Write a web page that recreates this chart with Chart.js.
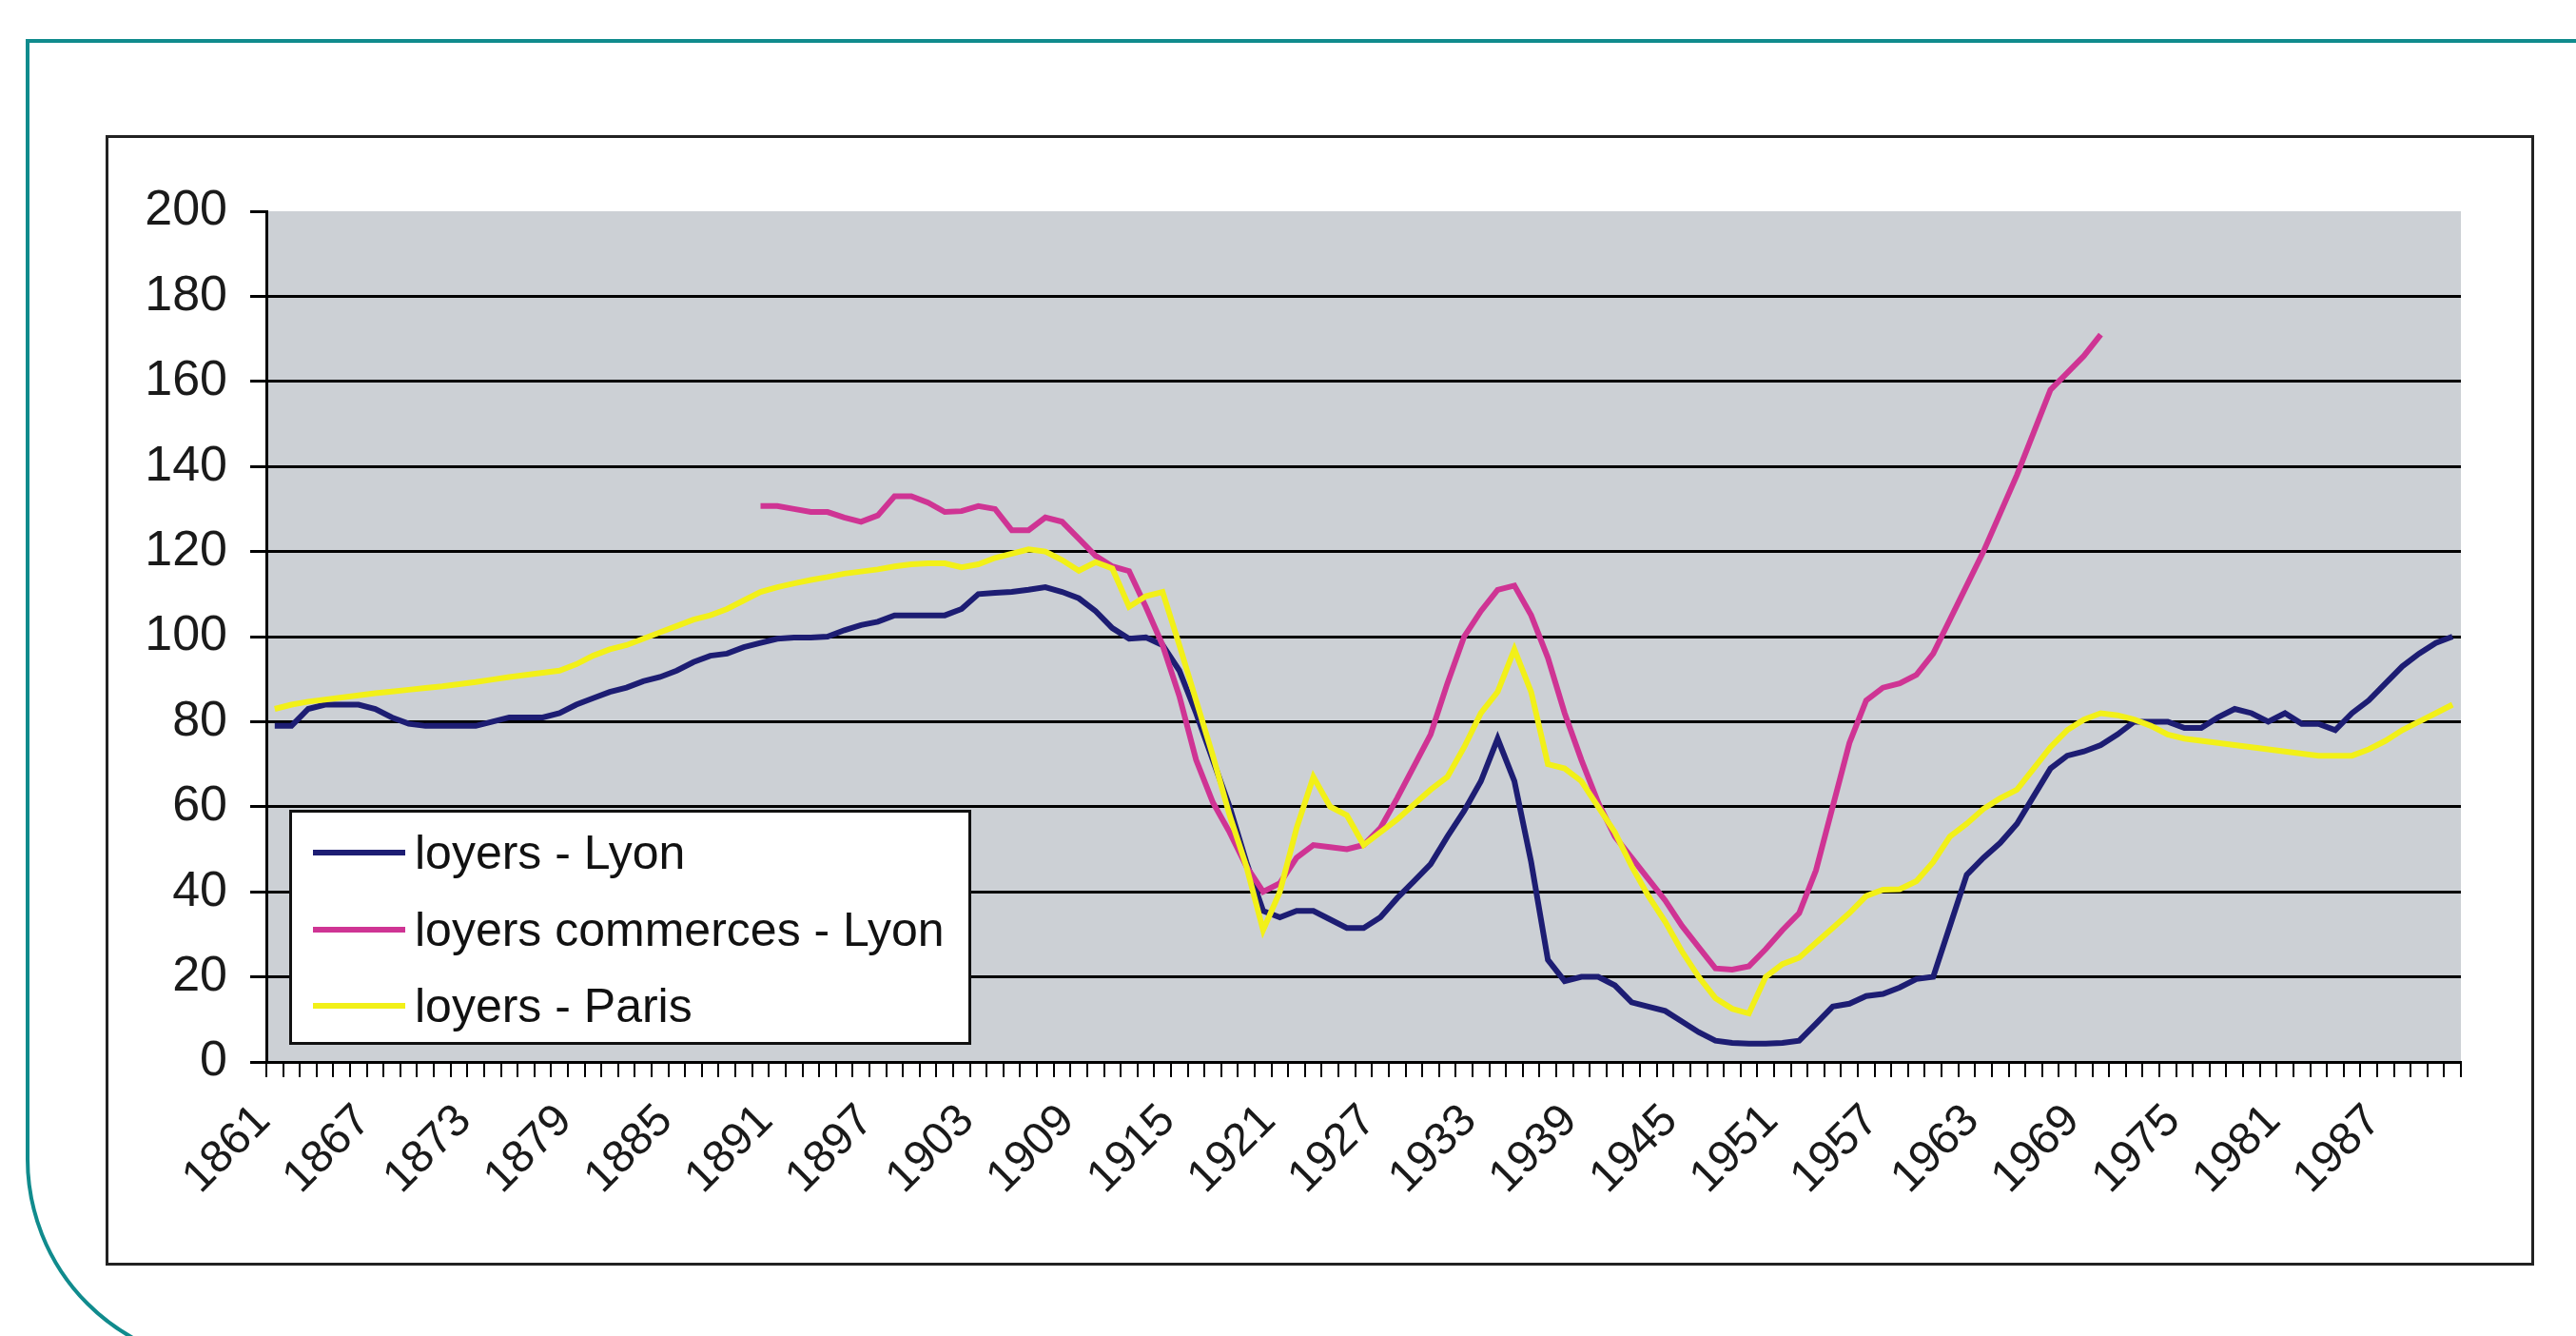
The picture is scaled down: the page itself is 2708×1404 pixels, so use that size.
<!DOCTYPE html>
<html lang="fr">
<head>
<meta charset="utf-8">
<title>Loyers Lyon / Paris</title>
<script src="https://cdn.jsdelivr.net/npm/chart.js@4.4.1/dist/chart.umd.min.js"></script>
<style>
  html, body { margin: 0; padding: 0; background: #fff; }
  body { width: 2708px; height: 1404px; position: relative; overflow: hidden;
         font-family: "Liberation Sans", Arial, sans-serif; }
  #cadre { position: absolute; left: 27px; top: 41px; width: 2800px; height: 1394px;
           border: 4px solid #108b8d; border-bottom-left-radius: 217px; box-sizing: border-box; }
  #boite { position: absolute; left: 111px; top: 142px; width: 2553px; height: 1188px;
           border: 3px solid #222; box-sizing: border-box; background: #fff; }
  #graphique { position: absolute; left: 0; top: 0; }
  #legende { position: absolute; left: 304px; top: 851px; width: 717px; height: 247px;
             border: 3px solid #111; box-sizing: border-box; background: #fff; }
  .ligne { position: absolute; left: 0; height: 80px; display: flex; align-items: center; }
  .trait { width: 97px; height: 6px; margin-left: 22px; margin-right: 10px; }
  .texte { font-size: 50px; color: #111; white-space: nowrap; }
</style>
</head>
<body>
<div id="cadre"></div>
<div id="boite"></div>
<canvas id="graphique" width="2708" height="1404"></canvas>
<div id="legende"></div>

<script>
// années 1861 -> 1991
const annees = Array.from({ length: 131 }, (_, i) => String(1861 + i));

// indices (base 100)
const loyersLyon = [
  79, 79, 83, 84, 84, 84, 83, 81, 79.5, 79,            // 1861-1870
  79, 79, 79, 80, 81, 81, 81, 82, 84, 85.5,            // 1871-1880
  87, 88, 89.5, 90.5, 92, 94, 95.5, 96, 97.5, 98.5,    // 1881-1890
  99.5, 99.8, 99.8, 100, 101.5, 102.7, 103.5, 105, 105, 105,
  105, 106.5, 110, 110.3, 110.5, 111, 111.6, 110.5, 109, 106,
  102, 99.5, 99.8, 98, 92, 82, 71, 60, 47, 35.5,       // 1911-1920
  34, 35.5, 35.5, 33.5, 31.5, 31.5, 34, 38.5, 42.5, 46.5,
  53, 59, 66, 76, 66, 47, 24, 19, 20, 20,              // 1931-1940
  18, 14, 13, 12, 9.5, 7, 5, 4.5, 4.3, 4.3,
  4.5, 5, 9, 13, 13.7, 15.5, 16, 17.5, 19.5, 20,       // 1951-1960
  32, 44, 48, 51.5, 56, 62.5, 69, 72, 73, 74.5,
  77, 80, 80, 80, 78.5, 78.5, 81, 83, 82, 80,          // 1971-1980
  82, 79.5, 79.5, 78, 82, 85, 89, 93, 96, 98.5,
  100                                                  // 1991
];

// commerces : de 1890 à 1970 seulement
const loyersCommerces = [
  null, null, null, null, null, null, null, null, null, null,
  null, null, null, null, null, null, null, null, null, null,
  null, null, null, null, null, null, null, null, null,  // 1861-1889
  130.7, 130.7, 130, 129.3, 129.3, 128, 127, 128.5, 133, 133,   // 1890-1899
  131.5, 129.3, 129.5, 130.7, 130, 125, 125, 128, 127, 123,
  119, 116.5, 115.4, 107, 98, 86, 71, 61, 54, 46,               // 1910-1919
  40, 42, 48, 51, 50.5, 50, 51, 55, 62, 69.5,
  77, 89, 100, 106, 111, 112, 105, 95, 82, 71,                  // 1930-1939
  61, 53, 48, 43, 38, 32, 27, 22, 21.7, 22.5,
  26.5, 31, 35, 45, 60, 75, 85, 88, 89, 91,                     // 1950-1959
  96, 104, 112, 120, 129, 138, 148, 158, 162, 166,
  171,                                                          // 1970
  null, null, null, null, null, null, null, null, null, null,
  null, null, null, null, null, null, null, null, null, null, null
];

const loyersParis = [
  83, 84, 84.7, 85.2, 85.7, 86.2, 86.7, 87.1, 87.5, 87.9,      // 1861-1870
  88.3, 88.8, 89.3, 89.9, 90.5, 91, 91.5, 92, 93.5, 95.5,
  97, 98, 99.5, 101, 102.5, 104, 105, 106.5, 108.5, 110.5,     // 1881-1890
  111.6, 112.5, 113.3, 114, 114.8, 115.3, 115.8, 116.5, 117, 117.2,
  117.2, 116.3, 117, 118.5, 119.5, 120.5, 120, 118, 115.5, 117.5,
  116, 107, 109.5, 110.5, 98, 85, 72, 58, 46, 31,              // 1911-1920
  40, 55, 67, 60, 58, 51, 54, 57, 60.5, 64,
  67, 74, 82, 87, 97, 87, 70, 69, 66, 60,                      // 1931-1940
  54, 46, 39, 33, 26, 20, 15, 12.5, 11.4, 20,
  23, 24.5, 28, 31.5, 35, 39, 40.5, 40.6, 42.5, 47,            // 1951-1960
  53, 56, 59.5, 62, 64, 69, 74, 78, 80.5, 82,
  81.5, 80.5, 79, 77, 76, 75.5, 75, 74.5, 74, 73.5,            // 1971-1980
  73, 72.5, 72, 72, 72, 73.5, 75.5, 78, 80, 82,
  84                                                           // 1991
];

const police = '"Liberation Sans", Arial, sans-serif';

// fond gris de la zone de tracé
const fondGris = {
  id: 'fondGris',
  beforeDraw(chart) {
    const { ctx, chartArea: a } = chart;
    ctx.save();
    ctx.fillStyle = '#ccd0d5';
    ctx.fillRect(a.left, a.top, a.right - a.left, a.bottom - a.top);
    ctx.restore();
  }
};

const graphique = new Chart(document.getElementById('graphique'), {
  type: 'line',
  data: {
    labels: annees,
    datasets: [
      { label: 'loyers - Lyon', data: loyersLyon, borderColor: '#1d1d73', order: 2 },
      { label: 'loyers commerces - Lyon', data: loyersCommerces, borderColor: '#cf3494', order: 1 },
      { label: 'loyers - Paris', data: loyersParis, borderColor: '#f2f018', order: 0 }
    ]
  },
  options: {
    responsive: false,
    animation: false,
    devicePixelRatio: 1,
    layout: { padding: { left: 120, top: 222, right: 121, bottom: 0 } },
    elements: {
      line: { borderWidth: 6, tension: 0 },
      point: { radius: 0, hoverRadius: 0 }
    },
    plugins: { legend: { display: false }, tooltip: { enabled: false } },
    scales: {
      x: {
        offset: true,
        grid: { offset: true, drawOnChartArea: false, tickLength: 16, tickColor: '#000', lineWidth: 2 },
        border: { color: '#000', width: 3 },
        ticks: {
          autoSkip: false, minRotation: 45, maxRotation: 45, padding: 18, labelOffset: -12,
          color: '#1a1a1a', font: { family: police, size: 48 },
          callback: (v, i) => (i % 6 === 0 ? annees[i] : '')
        },
        afterFit: s => { s.height = 288; }
      },
      y: {
        min: 0, max: 200,
        ticks: { stepSize: 20, padding: 24, color: '#1a1a1a', font: { family: police, size: 52 } },
        grid: {
          color: c => (c.tick && c.tick.value === 200 ? 'rgba(0,0,0,0)' : '#000'),
          tickColor: '#000', lineWidth: 3, tickLength: 17
        },
        border: { color: '#000', width: 3 },
        afterFit: s => { s.width = 160; }
      }
    }
  },
  plugins: [fondGris]
});

// légende en encadré, dans la zone de tracé
const legende = document.getElementById('legende');
graphique.data.datasets.forEach((ds, i) => {
  const ligne = document.createElement('div');
  ligne.className = 'ligne';
  ligne.style.top = (2 + i * 80.5) + 'px';
  ligne.innerHTML = '<span class="trait" style="background:' + ds.borderColor + '"></span>' +
                    '<span class="texte">' + ds.label + '</span>';
  legende.appendChild(ligne);
});
</script>
</body>
</html>
